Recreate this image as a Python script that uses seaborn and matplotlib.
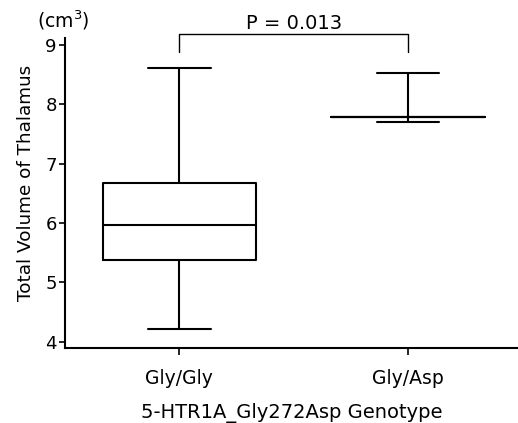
import matplotlib
matplotlib.use("Agg")
import matplotlib.pyplot as plt
import numpy as np
import pandas as pd
import seaborn as sns

# five-number summaries (min, Q1, median, Q3, max)
genotypes = ['Gly/Gly', 'Gly/Asp']
gly_gly = [4.21, 5.37, 5.96, 6.67, 8.61]
gly_asp = [7.70, 7.79, 7.79, 7.79, 8.53]
p_text = 'P = 0.013'

def plot_chart():
    sns.set_style('ticks')
    plt.rcParams['font.family'] = ['DejaVu Sans']
    plt.rcParams['text.color'] = 'black'
    plt.rcParams['axes.labelcolor'] = 'black'
    plt.rcParams['xtick.color'] = 'black'
    plt.rcParams['ytick.color'] = 'black'

    df = pd.concat([
        pd.DataFrame({'volume': gly_gly}).assign(genotype=genotypes[0]),
        pd.DataFrame({'volume': gly_asp}).assign(genotype=genotypes[1]),
    ], ignore_index=True)

    fig = plt.figure(figsize=(5.18, 4.23), dpi=100)
    ax = fig.add_axes([0.1255, 0.177, 0.874, 0.733])

    sns.boxplot(data=df
                , x='genotype'
                , y='volume'
                , order=genotypes
                , whis=(0, 100)
                , width=0.67
                , fill=False
                , color='black'
                , linewidth=1.5
                , capwidths=0.275
                , ax=ax
                )

    ax.set_xlim(-0.5, 1.48)
    ax.set_ylim(3.89, 9.12)
    ax.set_yticks([4, 5, 6, 7, 8, 9])
    ax.tick_params(axis='y', labelsize=13, length=4, width=1.2, pad=2)
    ax.tick_params(axis='x', labelsize=13.5, length=5, width=1.2, pad=10)
    ax.set_ylabel('Total Volume of Thalamus', fontsize=13.2)
    ax.yaxis.set_label_coords(-0.066, 0.532)
    ax.set_xlabel('5-HTR1A_Gly272Asp Genotype', fontsize=14, labelpad=11)
    sns.despine(ax=ax)
    for s in ['left', 'bottom']:
        ax.spines[s].set_linewidth(1.5)
        ax.spines[s].set_color('black')

    # significance bracket
    ax.plot([0, 0, 1, 1], [8.88, 9.19, 9.19, 8.88], color='black', lw=1, clip_on=False)
    ax.text(0.5, 9.21, p_text, ha='center', va='bottom', fontsize=14)

    fig.text(0.122, 0.953, '(cm$^3$)', ha='center', va='center', fontsize=13.5)

    plt.savefig('out.png', dpi=100)

plot_chart()
